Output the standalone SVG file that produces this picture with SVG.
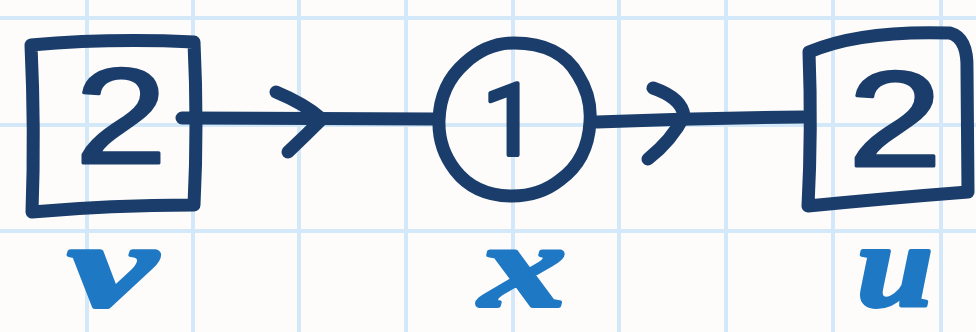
<svg xmlns="http://www.w3.org/2000/svg" width="976" height="332" viewBox="0 0 976 332">
<style>
.grid line{stroke:#d3e8f8;stroke-width:4}
.ink{fill:none;stroke:#1b3d6b;stroke-width:13;stroke-linecap:round;stroke-linejoin:round}
.num{font-family:"Liberation Sans",Arial,sans-serif;font-size:136px;fill:#1b3d6b;stroke:#1b3d6b;stroke-width:3;stroke-linejoin:round}
.lbl{font-family:"Liberation Serif","Times New Roman",serif;font-weight:bold;font-style:italic;font-size:118px;fill:#1f78c4;stroke:#1f78c4;stroke-width:4;stroke-linejoin:round}
</style>
<rect width="976" height="332" fill="#fdfcfa"/>
<g class="grid">
<line x1="87" y1="0" x2="87" y2="332"/>
<line x1="193" y1="0" x2="193" y2="332"/>
<line x1="299" y1="0" x2="299" y2="332"/>
<line x1="406" y1="0" x2="406" y2="332"/>
<line x1="513" y1="0" x2="513" y2="332"/>
<line x1="619" y1="0" x2="619" y2="332"/>
<line x1="726" y1="0" x2="726" y2="332"/>
<line x1="833" y1="0" x2="833" y2="332"/>
<line x1="941" y1="0" x2="941" y2="332"/>
<line x1="0" y1="18" x2="976" y2="18"/>
<line x1="0" y1="125" x2="976" y2="125"/>
<line x1="0" y1="231" x2="976" y2="231"/>
</g>
<g id="connectors">
<path class="ink" d="M182 118 L433 119"/>
<path class="ink" d="M276 92 Q305 104 322 119 Q305 136 288 152"/>
<path class="ink" d="M597 122 Q700 118 803 117"/>
<path class="ink" d="M653 88 Q682 98 684 116 Q672 140 648 159"/>
</g>
<g id="node-v">
<path class="ink" d="M31 45 Q110 38 194 42 Q198 125 194 205 Q110 205 32 212 Q35 130 31 45 Z"/>
<text class="num" x="121" y="163" text-anchor="middle" textLength="92" lengthAdjust="spacingAndGlyphs">2</text>
<text class="lbl" x="112" y="306" text-anchor="middle" textLength="88" lengthAdjust="spacingAndGlyphs">v</text>
</g>
<g id="node-x">
<path class="ink" d="M514 43 Q560 43 578 75 Q592 97 590 122 Q588 160 560 180 Q540 196 512 196 Q475 196 455 170 Q438 148 439 120 Q440 85 465 63 Q487 43 514 43 Z"/>
<text x="510" y="155" text-anchor="middle" font-family="Roboto,'Open Sans',sans-serif" font-size="100" fill="#1b3d6b" stroke="#1b3d6b" stroke-width="4" stroke-linejoin="round">1</text>
<text class="lbl" x="523" y="306" text-anchor="middle" textLength="86" lengthAdjust="spacingAndGlyphs">x</text>
</g>
<g id="node-u">
<path class="ink" d="M809 52 Q860 30 950 33 Q968 38 967 70 L968 192 Q890 198 808 206 Q812 130 809 52 Z"/>
<text class="num" x="895" y="166" text-anchor="middle" textLength="94" lengthAdjust="spacingAndGlyphs">2</text>
<text class="lbl" x="895" y="306" text-anchor="middle" textLength="76" lengthAdjust="spacingAndGlyphs">u</text>
</g>
</svg>
